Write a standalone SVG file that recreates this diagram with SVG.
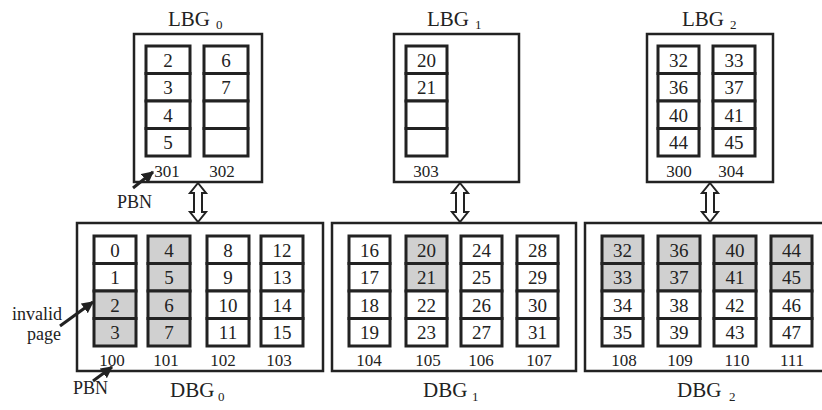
<svg xmlns="http://www.w3.org/2000/svg" width="822" height="410" viewBox="0 0 822 410" font-family="'Liberation Serif', 'Times New Roman', serif">
<style>
.box{fill:#fff;stroke:#222;stroke-width:2.5}
.c{fill:#fff;stroke:#222;stroke-width:3}
.g{fill:#d0d0d0;stroke:#222;stroke-width:3}
text{font-family:'Liberation Serif','Times New Roman',serif;fill:#222}
.n{font-size:19px;text-anchor:middle}
.lb{font-size:17px;text-anchor:middle}
.t{font-size:21px}
.s{font-size:13px}
.a{font-size:18px}
.dbl{fill:#fff;stroke:#222;stroke-width:2;stroke-linejoin:miter}
.ptr{stroke:#222;stroke-width:3;fill:none;marker-end:url(#ah)}
</style>
<defs>
<marker id="ah" viewBox="0 0 10 10" refX="9" refY="5" markerWidth="4" markerHeight="4" orient="auto" markerUnits="strokeWidth">
<path d="M0,0 L10,5 L0,10 Z" fill="#222"/>
</marker>
</defs>

<g id="LBG0">
<rect class="box" x="134" y="34" width="128" height="148"/>
<text class="t" x="168" y="26">LBG<tspan class="s" x="216" y="29">0</tspan></text>
<rect class="c" x="146" y="46" width="44" height="27.5"/><text class="n" x="168" y="66.5">2</text>
<rect class="c" x="146" y="73.5" width="44" height="27.5"/><text class="n" x="168" y="94">3</text>
<rect class="c" x="146" y="101" width="44" height="27.5"/><text class="n" x="168" y="121.5">4</text>
<rect class="c" x="146" y="128.5" width="44" height="27.5"/><text class="n" x="168" y="149">5</text>
<rect class="c" x="204" y="46" width="44" height="27.5"/><text class="n" x="226" y="66.5">6</text>
<rect class="c" x="204" y="73.5" width="44" height="27.5"/><text class="n" x="226" y="94">7</text>
<rect class="c" x="204" y="101" width="44" height="27.5"/>
<rect class="c" x="204" y="128.5" width="44" height="27.5"/>
<text class="lb" x="167" y="177">301</text>
<text class="lb" x="222" y="177">302</text>
</g>

<g id="LBG1">
<rect class="box" x="394" y="34" width="125" height="148"/>
<text class="t" x="427" y="26">LBG<tspan class="s" x="475" y="29">1</tspan></text>
<rect class="c" x="406" y="46" width="41" height="27.5"/><text class="n" x="426.5" y="66.5">20</text>
<rect class="c" x="406" y="73.5" width="41" height="27.5"/><text class="n" x="426.5" y="94">21</text>
<rect class="c" x="406" y="101" width="41" height="27.5"/>
<rect class="c" x="406" y="128.5" width="41" height="27.5"/>
<text class="lb" x="426" y="177">303</text>
</g>

<g id="LBG2">
<rect class="box" x="647" y="34" width="126" height="148"/>
<text class="t" x="682" y="26">LBG<tspan class="s" x="730" y="29">2</tspan></text>
<rect class="c" x="658" y="46" width="41" height="27.5"/><text class="n" x="678.5" y="66.5">32</text>
<rect class="c" x="658" y="73.5" width="41" height="27.5"/><text class="n" x="678.5" y="94">36</text>
<rect class="c" x="658" y="101" width="41" height="27.5"/><text class="n" x="678.5" y="121.5">40</text>
<rect class="c" x="658" y="128.5" width="41" height="27.5"/><text class="n" x="678.5" y="149">44</text>
<rect class="c" x="713" y="46" width="42" height="27.5"/><text class="n" x="734" y="66.5">33</text>
<rect class="c" x="713" y="73.5" width="42" height="27.5"/><text class="n" x="734" y="94">37</text>
<rect class="c" x="713" y="101" width="42" height="27.5"/><text class="n" x="734" y="121.5">41</text>
<rect class="c" x="713" y="128.5" width="42" height="27.5"/><text class="n" x="734" y="149">45</text>
<text class="lb" x="679" y="177">300</text>
<text class="lb" x="731" y="177">304</text>
</g>

<g id="DBG0">
<rect class="box" x="77" y="223" width="246" height="148"/>
<text class="t" x="170" y="397">DBG<tspan class="s" x="218" y="401">0</tspan></text>
<rect class="c" x="94" y="236" width="42" height="27.5"/><text class="n" x="115" y="256.5">0</text>
<rect class="c" x="94" y="263.5" width="42" height="27.5"/><text class="n" x="115" y="284">1</text>
<rect class="g" x="94" y="291" width="42" height="27.5"/><text class="n" x="115" y="311.5">2</text>
<rect class="g" x="94" y="318.5" width="42" height="27.5"/><text class="n" x="115" y="339">3</text>
<rect class="g" x="148" y="236" width="42" height="27.5"/><text class="n" x="169" y="256.5">4</text>
<rect class="g" x="148" y="263.5" width="42" height="27.5"/><text class="n" x="169" y="284">5</text>
<rect class="g" x="148" y="291" width="42" height="27.5"/><text class="n" x="169" y="311.5">6</text>
<rect class="g" x="148" y="318.5" width="42" height="27.5"/><text class="n" x="169" y="339">7</text>
<rect class="c" x="207" y="236" width="42" height="27.5"/><text class="n" x="228" y="256.5">8</text>
<rect class="c" x="207" y="263.5" width="42" height="27.5"/><text class="n" x="228" y="284">9</text>
<rect class="c" x="207" y="291" width="42" height="27.5"/><text class="n" x="228" y="311.5">10</text>
<rect class="c" x="207" y="318.5" width="42" height="27.5"/><text class="n" x="228" y="339">11</text>
<rect class="c" x="261" y="236" width="42" height="27.5"/><text class="n" x="282" y="256.5">12</text>
<rect class="c" x="261" y="263.5" width="42" height="27.5"/><text class="n" x="282" y="284">13</text>
<rect class="c" x="261" y="291" width="42" height="27.5"/><text class="n" x="282" y="311.5">14</text>
<rect class="c" x="261" y="318.5" width="42" height="27.5"/><text class="n" x="282" y="339">15</text>
<text class="lb" x="112" y="366">100</text>
<text class="lb" x="166" y="366">101</text>
<text class="lb" x="223" y="366">102</text>
<text class="lb" x="279" y="366">103</text>
</g>

<g id="DBG1">
<rect class="box" x="332" y="223" width="244" height="148"/>
<text class="t" x="423" y="397">DBG<tspan class="s" x="472" y="401">1</tspan></text>
<rect class="c" x="349" y="236" width="41" height="27.5"/><text class="n" x="369.5" y="256.5">16</text>
<rect class="c" x="349" y="263.5" width="41" height="27.5"/><text class="n" x="369.5" y="284">17</text>
<rect class="c" x="349" y="291" width="41" height="27.5"/><text class="n" x="369.5" y="311.5">18</text>
<rect class="c" x="349" y="318.5" width="41" height="27.5"/><text class="n" x="369.5" y="339">19</text>
<rect class="g" x="406" y="236" width="41" height="27.5"/><text class="n" x="426.5" y="256.5">20</text>
<rect class="g" x="406" y="263.5" width="41" height="27.5"/><text class="n" x="426.5" y="284">21</text>
<rect class="c" x="406" y="291" width="41" height="27.5"/><text class="n" x="426.5" y="311.5">22</text>
<rect class="c" x="406" y="318.5" width="41" height="27.5"/><text class="n" x="426.5" y="339">23</text>
<rect class="c" x="461" y="236" width="41" height="27.5"/><text class="n" x="481.5" y="256.5">24</text>
<rect class="c" x="461" y="263.5" width="41" height="27.5"/><text class="n" x="481.5" y="284">25</text>
<rect class="c" x="461" y="291" width="41" height="27.5"/><text class="n" x="481.5" y="311.5">26</text>
<rect class="c" x="461" y="318.5" width="41" height="27.5"/><text class="n" x="481.5" y="339">27</text>
<rect class="c" x="517" y="236" width="41" height="27.5"/><text class="n" x="537.5" y="256.5">28</text>
<rect class="c" x="517" y="263.5" width="41" height="27.5"/><text class="n" x="537.5" y="284">29</text>
<rect class="c" x="517" y="291" width="41" height="27.5"/><text class="n" x="537.5" y="311.5">30</text>
<rect class="c" x="517" y="318.5" width="41" height="27.5"/><text class="n" x="537.5" y="339">31</text>
<text class="lb" x="369" y="366">104</text>
<text class="lb" x="428" y="366">105</text>
<text class="lb" x="481" y="366">106</text>
<text class="lb" x="539" y="366">107</text>
</g>

<g id="DBG2">
<rect class="box" x="585" y="223" width="250" height="148"/>
<text class="t" x="677" y="397">DBG<tspan class="s" x="729" y="401">2</tspan></text>
<rect class="g" x="602" y="236" width="41" height="27.5"/><text class="n" x="622.5" y="256.5">32</text>
<rect class="g" x="602" y="263.5" width="41" height="27.5"/><text class="n" x="622.5" y="284">33</text>
<rect class="c" x="602" y="291" width="41" height="27.5"/><text class="n" x="622.5" y="311.5">34</text>
<rect class="c" x="602" y="318.5" width="41" height="27.5"/><text class="n" x="622.5" y="339">35</text>
<rect class="g" x="658" y="236" width="42" height="27.5"/><text class="n" x="679" y="256.5">36</text>
<rect class="g" x="658" y="263.5" width="42" height="27.5"/><text class="n" x="679" y="284">37</text>
<rect class="c" x="658" y="291" width="42" height="27.5"/><text class="n" x="679" y="311.5">38</text>
<rect class="c" x="658" y="318.5" width="42" height="27.5"/><text class="n" x="679" y="339">39</text>
<rect class="g" x="714" y="236" width="42" height="27.5"/><text class="n" x="735" y="256.5">40</text>
<rect class="g" x="714" y="263.5" width="42" height="27.5"/><text class="n" x="735" y="284">41</text>
<rect class="c" x="714" y="291" width="42" height="27.5"/><text class="n" x="735" y="311.5">42</text>
<rect class="c" x="714" y="318.5" width="42" height="27.5"/><text class="n" x="735" y="339">43</text>
<rect class="g" x="771" y="236" width="41" height="27.5"/><text class="n" x="791.5" y="256.5">44</text>
<rect class="g" x="771" y="263.5" width="41" height="27.5"/><text class="n" x="791.5" y="284">45</text>
<rect class="c" x="771" y="291" width="41" height="27.5"/><text class="n" x="791.5" y="311.5">46</text>
<rect class="c" x="771" y="318.5" width="41" height="27.5"/><text class="n" x="791.5" y="339">47</text>
<text class="lb" x="624" y="366">108</text>
<text class="lb" x="680" y="366">109</text>
<text class="lb" x="737" y="366">110</text>
<text class="lb" x="792" y="366">111</text>
</g>

<g id="annotations">
<text class="a" x="117" y="208">PBN</text>
<text class="a" x="73" y="394">PBN</text>
<text class="a" x="12" y="320">invalid</text>
<text class="a" x="27" y="340">page</text>
</g>

<g id="connectors">
<path class="dbl" d="M198,183 L206,193 L202,193 L202,212 L206,212 L198,222 L190,212 L194,212 L194,193 L190,193 Z"/>
<path class="dbl" d="M460,183 L468,193 L464,193 L464,212 L468,212 L460,222 L452,212 L456,212 L456,193 L452,193 Z"/>
<path class="dbl" d="M710,183 L718,193 L714,193 L714,212 L718,212 L710,222 L702,212 L706,212 L706,193 L702,193 Z"/>
<line class="ptr" x1="133" y1="188" x2="153" y2="172"/>
<line class="ptr" x1="93" y1="381" x2="112" y2="367"/>
<line class="ptr" x1="60" y1="326" x2="93" y2="302"/>
</g>
</svg>
